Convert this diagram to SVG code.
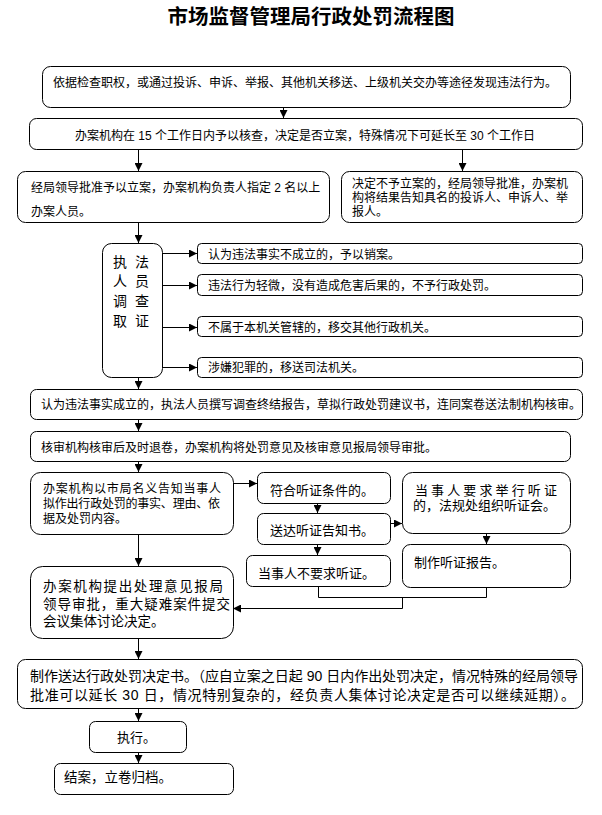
<svg xmlns="http://www.w3.org/2000/svg" width="602" height="815" viewBox="0 0 602 815">
<defs>
<style>
.b{fill:#fff;stroke:#000;stroke-width:1}
.t{font-family:'Liberation Sans','Noto Sans CJK SC',sans-serif;font-size:12px;fill:#000}
.m{font-size:13px}
.l{font-size:13.5px}
.x{font-size:14px}
.c{fill:none;stroke:#000;stroke-width:1}
.a{marker-end:url(#ah)}
</style>
<marker id="ah" markerUnits="userSpaceOnUse" markerWidth="9" markerHeight="8" refX="8" refY="4" orient="auto">
<path d="M0,0 L8,4 L0,8 z" fill="#000"/>
</marker>
</defs>
<rect width="602" height="815" fill="#fff"/>
<text x="311" y="23.5" text-anchor="middle" style="font-family:'Noto Sans CJK SC',sans-serif;font-size:20.5px;font-weight:700">市场监督管理局行政处罚流程图</text>

<g id="n1"><rect class="b" x="42.5" y="66.5" width="528" height="41" rx="8"/>
<text class="t" x="53" y="86.5">依据检查职权，或通过投诉、申诉、举报、其他机关移送、上级机关交办等途径发现违法行为。</text></g>
<g id="n2"><rect class="b" x="29.5" y="118.5" width="553" height="31" rx="7"/>
<text class="t" x="305" y="139.5" text-anchor="middle">办案机构在 15 个工作日内予以核查，决定是否立案，特殊情况下可延长至 30 个工作日</text></g>
<g id="n3"><rect class="b" x="17.5" y="171.5" width="312" height="51" rx="8"/>
<text class="t" x="31" y="191.5">经局领导批准予以立案，办案机构负责人指定 2 名以上</text>
<text class="t" x="31" y="215.5">办案人员。</text></g>
<g id="n4"><rect class="b" x="341.5" y="171.5" width="241" height="51" rx="8"/>
<text class="t" x="352" y="187.5">决定不予立案的，经局领导批准，办案机</text>
<text class="t" x="352" y="201.5">构将结果告知具名的投诉人、申诉人、举</text>
<text class="t" x="352" y="215.5">报人。</text></g>
<g id="n5"><rect class="b" x="102.5" y="243.5" width="60" height="134" rx="9"/>
<text class="t x" x="113" y="267">执<tspan x="135">法</tspan></text>
<text class="t x" x="113" y="286">人<tspan x="135">员</tspan></text>
<text class="t x" x="113" y="306">调<tspan x="135">查</tspan></text>
<text class="t x" x="113" y="326">取<tspan x="135">证</tspan></text></g>
<g id="n6"><rect class="b" x="197.5" y="243.5" width="385" height="20" rx="4"/>
<text class="t" x="208" y="258.5">认为违法事实不成立的，予以销案。</text></g>
<g id="n7"><rect class="b" x="197.5" y="274.5" width="385" height="21" rx="4"/>
<text class="t" x="208" y="290">违法行为轻微，没有造成危害后果的，不予行政处罚。</text></g>
<g id="n8"><rect class="b" x="197.5" y="316.5" width="385" height="20" rx="4"/>
<text class="t" x="208" y="331.5">不属于本机关管辖的，移交其他行政机关。</text></g>
<g id="n9"><rect class="b" x="197.5" y="357.5" width="385" height="20" rx="4"/>
<text class="t" x="208" y="372">涉嫌犯罪的，移送司法机关。</text></g>
<g id="n10"><rect class="b" x="30.5" y="389.5" width="552" height="30" rx="6"/>
<text class="t" x="41" y="408.5">认为违法事实成立的，执法人员撰写调查终结报告，草拟行政处罚建议书，连同案卷送法制机构核审。</text></g>
<g id="n11"><rect class="b" x="30.5" y="431.5" width="540" height="30" rx="6"/>
<text class="t" x="41" y="451.5">核审机构核审后及时退卷，办案机构将处罚意见及核审意见报局领导审批。</text></g>
<g id="n12"><rect class="b" x="30.5" y="472.5" width="203" height="62" rx="10"/>
<text class="t" x="43" y="492.5" textLength="178" lengthAdjust="spacing">办案机构以市局名义告知当事人</text>
<text class="t" x="43" y="507.5" textLength="177" lengthAdjust="spacing">拟作出行政处罚的事实、理由、依</text>
<text class="t" x="43" y="522.5">据及处罚内容。</text></g>
<g id="n13"><rect class="b" x="257.5" y="472.5" width="133" height="31" rx="6"/>
<text class="t m" x="270" y="495">符合听证条件的。</text></g>
<g id="n14"><rect class="b" x="257.5" y="513.5" width="133" height="31" rx="6"/>
<text class="t m" x="270" y="535">送达听证告知书。</text></g>
<g id="n15"><rect class="b" x="246.5" y="555.5" width="144" height="31" rx="6"/>
<text class="t m" x="258" y="578">当事人不要求听证。</text></g>
<g id="n16"><rect class="b" x="402.5" y="472.5" width="168" height="61" rx="10"/>
<text class="t m" x="415" y="495" textLength="142" lengthAdjust="spacing">当事人要求举行听证</text>
<text class="t m" x="413" y="510">的，法规处组织听证会。</text></g>
<g id="n17"><rect class="b" x="402.5" y="544.5" width="168" height="43" rx="8"/>
<text class="t m" x="414" y="567">制作听证报告。</text></g>
<g id="n18"><rect class="b" x="30.5" y="566.5" width="203" height="72" rx="12"/>
<text class="t l" x="43" y="591" textLength="180" lengthAdjust="spacing">办案机构提出处理意见报局</text>
<text class="t l" x="43" y="609" textLength="187" lengthAdjust="spacing">领导审批，重大疑难案件提交</text>
<text class="t l" x="43" y="626">会议集体讨论决定。</text></g>
<g id="n19"><rect class="b" x="17.5" y="659.5" width="565" height="49" rx="8"/>
<text class="t x" x="30" y="681" textLength="548" lengthAdjust="spacing">制作送达行政处罚决定书。（应自立案之日起 90 日内作出处罚决定，情况特殊的经局领导</text>
<text class="t x" x="30" y="700" textLength="545" lengthAdjust="spacing">批准可以延长 30 日，情况特别复杂的，经负责人集体讨论决定是否可以继续延期）。</text></g>
<g id="n20"><rect class="b" x="89.5" y="721.5" width="97" height="31" rx="6"/>
<text class="t m" x="117" y="742">执行。</text></g>
<g id="n21"><rect class="b" x="54.5" y="763.5" width="179" height="31" rx="6"/>
<text class="t l" x="64" y="782">结案，立卷归档。</text></g>

<g id="connectors">
<path class="c a" d="M283.5,107 V118"/>
<path class="c a" d="M138.5,149 V171"/>
<path class="c a" d="M462.5,149 V171"/>
<path class="c a" d="M138.5,222 V243"/>
<path class="c a" d="M162,253.5 H197"/>
<path class="c a" d="M162,285.5 H197"/>
<path class="c a" d="M162,327.5 H197"/>
<path class="c a" d="M162,367.5 H197"/>
<path class="c a" d="M138.5,377 V389"/>
<path class="c a" d="M138.5,419 V431"/>
<path class="c a" d="M138.5,461 V472"/>
<path class="c a" d="M138.5,534 V566"/>
<path class="c a" d="M233,483.5 H257"/>
<path class="c a" d="M317.5,503 V513"/>
<path class="c a" d="M317.5,544 V555"/>
<path class="c a" d="M390,523.5 H402"/>
<path class="c a" d="M486.5,533 V544"/>
<path class="c" d="M318.5,586 V597.5 H486.5 V587"/>
<path class="c a" d="M402.5,597.5 V608.5 H233"/>
<path class="c a" d="M138.5,638 V659"/>
<path class="c a" d="M138.5,708 V721"/>
<path class="c a" d="M138.5,752 V763"/>
</g>
</svg>
